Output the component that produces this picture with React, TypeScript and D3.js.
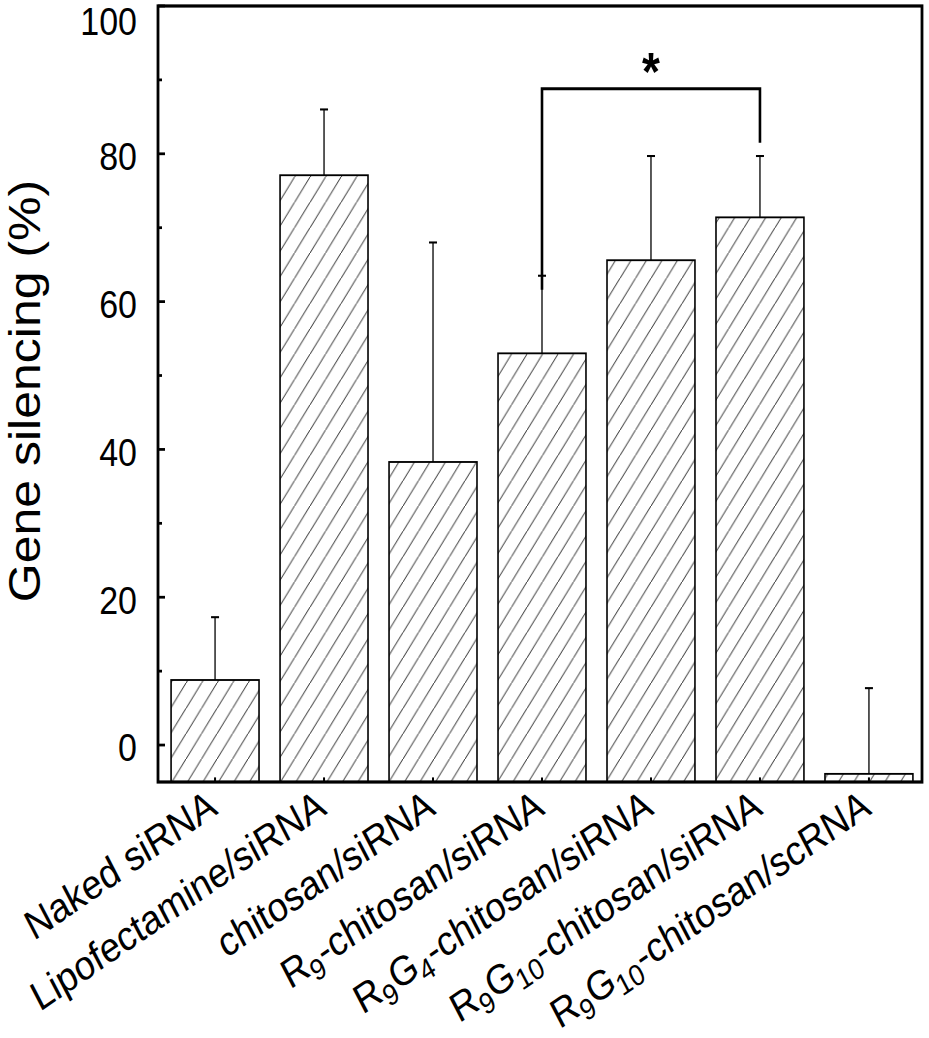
import * as d3 from 'd3'

// categories; "_n" marks a subscript
const categories = [
  'Naked siRNA',
  'Lipofectamine/siRNA',
  'chitosan/siRNA',
  'R_9-chitosan/siRNA',
  'R_9G_4-chitosan/siRNA',
  'R_9G_10-chitosan/siRNA',
  'R_9G_10-chitosan/scRNA',
]
const silencing = [8.8, 77.1, 38.3, 53.0, 65.6, 71.4, -3.9]
const errors = [8.5, 8.9, 29.7, 10.5, 14.1, 8.3, 11.6]
const majorTicks = [0, 20, 40, 60, 80, 100]
const minorTicks = [10, 30, 50, 70, 90]
// significance bracket between R9 and R9G10
const bracketFrom = 3
const bracketTo = 5
const bracketLevel = 88.8
const bracketLeftEnd = 61.6
const bracketRightEnd = 81.5

const width = 929
const height = 1038
const stretch = 1.15 // the figure is drawn taller than its natural proportions
const vbHeight = height / stretch
const plot = { left: 158, right: 922, top: 5.2, bottom: 680 }
const font = "'Liberation Sans', Arial, Helvetica, sans-serif"

const x = d3
  .scaleBand<string>()
  .domain(categories)
  .range([plot.left, 926])
  .paddingInner(0.193)
  .paddingOuter(0.12)

const y = d3.scaleLinear().domain([-5, 100]).range([plot.bottom, plot.top])

const Label = ({ name }: { name: string }) => {
  const parts = name.split(/_(\d+)/)
  return (
    <>
      {parts.map((p, i) =>
        i % 2 === 1 ? (
          <tspan key={i} fontSize={26} dy={8}>
            {p}
          </tspan>
        ) : (
          <tspan key={i} dy={i > 0 ? -8 : 0}>
            {p}
          </tspan>
        ),
      )}
    </>
  )
}

const App = () => {
  const bw = x.bandwidth()
  const cx = (i: number) => (x(categories[i]) ?? 0) + bw / 2
  const bx1 = cx(bracketFrom)
  const bx2 = cx(bracketTo)

  return (
    <svg
      width={width}
      height={height}
      viewBox={`0 0 ${width} ${vbHeight}`}
      preserveAspectRatio="none"
      style={{ position: 'absolute', left: 0, top: 0, background: '#fff' }}
      fontFamily={font}
    >
      <defs>
        <pattern id="hatch" patternUnits="userSpaceOnUse" width={15.5} height={22}>
          <line x1={-1} y1={22 + 1.42} x2={16.5} y2={-1.42} stroke="#222" strokeWidth={0.85} />
        </pattern>
      </defs>

      {/* bars */}
      {categories.map((c, i) => {
        const barTop = y(silencing[i])
        return (
          <rect
            key={c}
            x={x(c)}
            y={barTop}
            width={bw}
            height={y(-5) - barTop}
            fill="url(#hatch)"
            stroke="#000"
            strokeWidth={1.6}
          />
        )
      })}

      {/* error bars */}
      {categories.map((c, i) => {
        const xc = cx(i)
        const y1 = y(silencing[i])
        const y2 = y(silencing[i] + errors[i])
        return (
          <g key={c} stroke="#000" strokeWidth={1.3}>
            <line x1={xc} x2={xc} y1={y1} y2={y2} />
            <line x1={xc - 4} x2={xc + 4} y1={y2} y2={y2} strokeWidth={1.8} />
          </g>
        )
      })}

      {/* frame */}
      <rect
        x={plot.left}
        y={y(100)}
        width={plot.right - plot.left}
        height={y(-5) - y(100)}
        fill="none"
        stroke="#000"
        strokeWidth={2.8}
      />

      {/* y ticks */}
      {majorTicks.map((t) => (
        <g key={t}>
          <line x1={plot.left} x2={plot.left + 7} y1={y(t)} y2={y(t)} stroke="#000" strokeWidth={2.4} />
          <text x={137} y={Math.max(y(t) + 2, 18)} dy="0.36em" textAnchor="end" fontSize={34}>
            {t}
          </text>
        </g>
      ))}
      {minorTicks.map((t) => (
        <line key={t} x1={plot.left} x2={plot.left + 4} y1={y(t)} y2={y(t)} stroke="#000" strokeWidth={2.4} />
      ))}

      {/* x ticks */}
      {categories.map((c, i) => (
        <line key={c} x1={cx(i)} x2={cx(i)} y1={y(-5)} y2={y(-5) - 4} stroke="#000" strokeWidth={2} />
      ))}

      {/* y title */}
      <text transform={`translate(40, 340) rotate(-90)`} textAnchor="middle" fontSize={43.5}>
        Gene silencing (%)
      </text>

      {/* category labels */}
      {categories.map((c, i) => (
        <text
          key={c}
          transform={`translate(${cx(i) + 4}, ${plot.bottom + 27}) rotate(-31)`}
          textAnchor="end"
          fontSize={36}
        >
          <Label name={c} />
        </text>
      ))}

      {/* significance bracket */}
      <path
        d={`M${bx1},${y(bracketLeftEnd)} V${y(bracketLevel)} H${bx2} V${y(bracketRightEnd)}`}
        fill="none"
        stroke="#000"
        strokeWidth={2.6}
      />
      <text x={(bx1 + bx2) / 2} y={78} textAnchor="middle" fontSize={46} fontWeight="bold">
        *
      </text>
    </svg>
  )
}

export default App
